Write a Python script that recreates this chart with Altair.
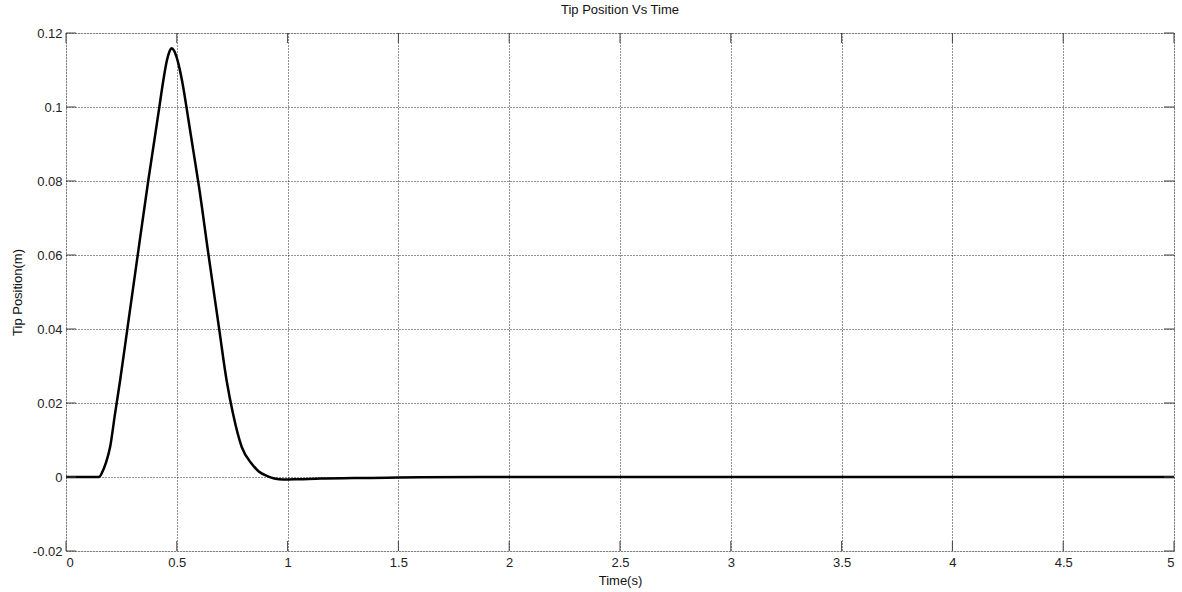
import altair as alt
import pandas as pd

# Time (s) and tip position (m)
time_s = [0.0, 0.10, 0.150, 0.161, 0.180, 0.199, 0.221, 0.244, 0.278, 0.319, 0.371,
          0.400, 0.420, 0.440, 0.455, 0.467, 0.477, 0.487, 0.498, 0.512, 0.530, 0.550,
          0.575, 0.600, 0.642, 0.690, 0.725, 0.754, 0.793, 0.838, 0.870, 0.906, 0.940,
          0.980, 1.050, 1.150, 1.300, 1.450, 1.600, 2.0, 3.0, 4.0, 5.0]
tip_m = [0.0, 0.0, 0.0, 0.001, 0.0038, 0.0081, 0.0170, 0.026, 0.0405, 0.058, 0.0800,
         0.0915, 0.0995, 0.1075, 0.1125, 0.1150, 0.1159, 0.1153, 0.1137, 0.1105, 0.1050, 0.0975,
         0.0880, 0.0785, 0.0605, 0.0405, 0.026, 0.0170, 0.0081, 0.0036, 0.0015, 0.0003, -0.0004,
         -0.0007, -0.0006, -0.0004, -0.0003, -0.0002, -0.0001, 0.0, 0.0, 0.0, 0.0]

x_ticks = [0, 0.5, 1, 1.5, 2, 2.5, 3, 3.5, 4, 4.5, 5]
y_ticks = [-0.02, 0, 0.02, 0.04, 0.06, 0.08, 0.1, 0.12]

W, H = 1108, 518
FONT = "Liberation Sans"
FS = 13
TICK_LEN = 10
FRAME = "#444444"

df = pd.DataFrame({"t": time_s, "v": tip_m})
xt = pd.DataFrame({"t": x_ticks})
yt = pd.DataFrame({"v": y_ticks})

lab = "replace(format(datum.value, '~g'), '\u2212', '-')"

x_axis = alt.Axis(values=x_ticks, labelExpr=lab, title="Time(s)", grid=True,
                  gridColor="#111111", gridDash=[1, 2], gridWidth=1, gridOpacity=0.9,
                  domain=False, ticks=False, labelPadding=5, labelFont=FONT,
                  labelFontSize=FS, labelColor="#222222", titleFont=FONT,
                  titleFontSize=FS, titleFontWeight="normal", titleColor="#111111",
                  titleX=W / 2, titleY=29, titleBaseline="middle")
y_axis = alt.Axis(values=y_ticks, labelExpr=lab, title="Tip Position(m)", grid=True,
                  gridColor="#111111", gridDash=[1, 2], gridWidth=1, gridOpacity=0.9,
                  domain=False, ticks=False, labelPadding=4, labelFont=FONT,
                  labelFontSize=FS, labelColor="#222222", titleFont=FONT,
                  titleFontSize=FS, titleFontWeight="normal", titleColor="#111111",
                  titleX=-49, titleY=H / 2, titleBaseline="middle", titleAngle=-90,
                  titleAlign="center")

xs = alt.Scale(domain=[0, 5], nice=False, zero=False)
ys = alt.Scale(domain=[-0.02, 0.12], nice=False, zero=False)

line = alt.Chart(df).mark_line(color="black", strokeWidth=2.5,
                               interpolate="monotone").encode(
    x=alt.X("t:Q", scale=xs, axis=x_axis),
    y=alt.Y("v:Q", scale=ys, axis=y_axis),
    order="t:Q",
)

xtick_top = alt.Chart(xt).mark_rule(color=FRAME, strokeWidth=1).encode(
    x=alt.X("t:Q", scale=xs, axis=x_axis), y=alt.value(0), y2=alt.value(TICK_LEN))
xtick_bot = alt.Chart(xt).mark_rule(color=FRAME, strokeWidth=1).encode(
    x=alt.X("t:Q", scale=xs, axis=x_axis), y=alt.value(H - TICK_LEN), y2=alt.value(H))
ytick_left = alt.Chart(yt).mark_rule(color=FRAME, strokeWidth=1).encode(
    y=alt.Y("v:Q", scale=ys, axis=y_axis), x=alt.value(0), x2=alt.value(TICK_LEN))
ytick_right = alt.Chart(yt).mark_rule(color=FRAME, strokeWidth=1).encode(
    y=alt.Y("v:Q", scale=ys, axis=y_axis), x=alt.value(W - TICK_LEN), x2=alt.value(W))

chart = alt.layer(line, xtick_top, xtick_bot, ytick_left, ytick_right).properties(
    width=W, height=H,
    title=alt.TitleParams("Tip Position Vs Time", font=FONT, fontSize=FS,
                          fontWeight="normal", color="#111111", anchor="middle",
                          offset=10),
    autosize=alt.AutoSizeParams(type="none"),
    padding={"left": 66, "top": 33, "right": 8, "bottom": 41},
).configure_view(stroke=FRAME, strokeWidth=1.2).configure(background="white")

chart.save("out.html", embed_options={"renderer": "svg", "actions": False})
